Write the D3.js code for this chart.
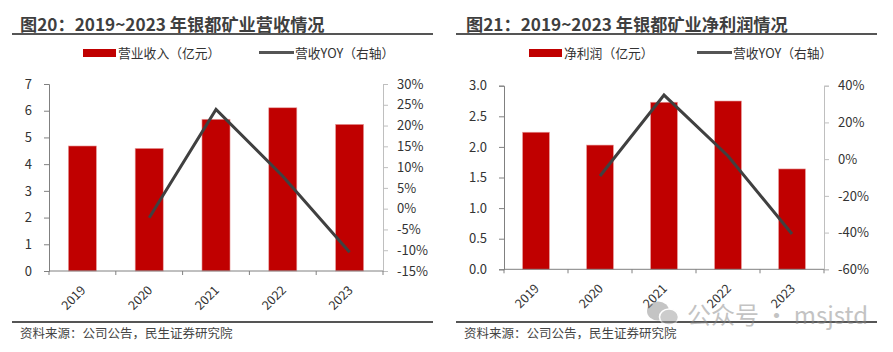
<!DOCTYPE html>
<html>
<head>
<meta charset="utf-8">
<script src="https://cdn.jsdelivr.net/npm/d3@7"></script>
<style>
  body { margin: 0; background: #fff; }
  svg { display: block; font-family: "Noto Sans CJK SC", "Noto Sans", sans-serif; }
</style>
</head>
<body>
<svg id="chart" width="893" height="352"></svg>
<script>
// data
const years = ["2019", "2020", "2021", "2022", "2023"]
const revenue = [4.68, 4.59, 5.68, 6.11, 5.49]          // 亿元
const revenueYoy = [null, -2.2, 23.9, 7.8, -10.5]         // %
const netProfit = [2.24, 2.03, 2.73, 2.75, 1.64]        // 亿元
const profitYoy = [null, -9.2, 34.9, 1.7, -40.8]          // %

const leftTicksA = [0, 1, 2, 3, 4, 5, 6, 7]
const rightTicksA = [-15, -10, -5, 0, 5, 10, 15, 20, 25, 30]
const leftTicksB = [0, 0.5, 1.0, 1.5, 2.0, 2.5, 3.0]
const rightTicksB = [-60, -40, -20, 0, 20, 40]

const svg = d3.select("#chart")

function drawPanel(p) {
    const g = svg.append("g")

    // title + rule under it
    g.append("text")
        .attr("x", p.titleX).attr("y", 31)
        .attr("font-size", 17.2).attr("font-weight", "bold")
        .attr("fill", "#3f3f3f")
        .text(p.title)
    g.append("line")
        .attr("x1", p.ruleX1).attr("x2", p.ruleX2)
        .attr("y1", 34).attr("y2", 34)
        .attr("stroke", "#555").attr("stroke-width", 2)

    // legend
    g.append("rect")
        .attr("x", p.legX).attr("y", 49).attr("width", 33).attr("height", 8)
        .attr("fill", "#C00000")
    g.append("text")
        .attr("x", p.legX + 35).attr("y", 57.5)
        .attr("font-size", 12.8).attr("fill", "#333")
        .text(p.barName)
    g.append("line")
        .attr("x1", p.legX2).attr("x2", p.legX2 + 35)
        .attr("y1", 52.5).attr("y2", 52.5)
        .attr("stroke", "#555").attr("stroke-width", 3)
    g.append("text")
        .attr("x", p.legX2 + 36).attr("y", 57.5)
        .attr("font-size", 12.8).attr("fill", "#333")
        .text(p.lineName)

    const x = d3.scaleBand().domain(years).range([p.x0, p.x1]).paddingInner(0.58).paddingOuter(0.29)
    const xb = d3.scaleBand().domain(years).range([p.x0, p.x1])
    const y = d3.scaleLinear().domain(p.yDomain).range([p.y1, p.y0])
    const y2 = d3.scaleLinear().domain(p.y2Domain).range([p.y1, p.y0])

    // bars
    g.selectAll(".bar")
        .data(p.bars)
        .enter()
        .append("rect")
        .attr("x", (d, i) => x(years[i]))
        .attr("y", d => y(d))
        .attr("width", x.bandwidth())
        .attr("height", d => p.y1 - y(d))
        .attr("fill", "#C00000")
        .attr("stroke", "#e8a0a0").attr("stroke-width", 0.6)

    // left axis
    const ax = g.append("g")
        .attr("transform", `translate(${p.x0},0)`)
        .call(d3.axisLeft(y).tickValues(p.leftTicks).tickSize(5).tickPadding(12).tickFormat(p.leftFmt))
    ax.select(".domain").attr("stroke", "#808080")
    ax.selectAll(".tick line").attr("stroke", "#808080")
    ax.selectAll("text").attr("font-size", 13).attr("fill", "#333").attr("font-family", "Noto Sans CJK SC")

    // right axis
    const ar = g.append("g")
        .attr("transform", `translate(${p.x1},0)`)
        .call(d3.axisRight(y2).tickValues(p.rightTicks).tickSize(5).tickPadding(9).tickFormat(d => d + "%"))
    ar.select(".domain").attr("stroke", "#bfbfbf")
    ar.selectAll(".tick line").attr("stroke", "#bfbfbf")
    ar.selectAll("text").attr("font-size", 13).attr("fill", "#333").attr("font-family", "Noto Sans CJK SC")

    // bottom axis with ticks at category boundaries
    g.append("line")
        .attr("x1", p.x0).attr("x2", p.x1).attr("y1", p.y1).attr("y2", p.y1)
        .attr("stroke", "#808080")
    g.selectAll(".xt")
        .data(years.concat(["end"]))
        .enter()
        .append("line")
        .attr("x1", (d, i) => p.x0 + i * xb.bandwidth())
        .attr("x2", (d, i) => p.x0 + i * xb.bandwidth())
        .attr("y1", p.y1).attr("y2", p.y1 + 4)
        .attr("stroke", "#808080")
    g.selectAll(".xl")
        .data(years)
        .enter()
        .append("text")
        .attr("font-size", 12.5).attr("fill", "#333")
        .attr("text-anchor", "end")
        .attr("transform", d => `translate(${xb(d) + xb.bandwidth() / 2 + 4},${p.y1 + 20}) rotate(-45)`)
        .text(d => d)

    // yoy line
    const line = d3.line()
        .defined(d => d != null)
        .x((d, i) => xb(years[i]) + xb.bandwidth() / 2)
        .y(d => y2(d))
    g.append("path")
        .attr("d", line(p.yoy))
        .attr("fill", "none")
        .attr("stroke", "#404040")
        .attr("stroke-width", 3)
        .attr("stroke-linejoin", "miter")

    // footer
    g.append("line")
        .attr("x1", p.ruleX1).attr("x2", p.ruleX2)
        .attr("y1", 322).attr("y2", 322)
        .attr("stroke", "#555").attr("stroke-width", 2)
    g.append("text")
        .attr("x", p.ruleX1 + 8).attr("y", 338)
        .attr("font-size", 12.5).attr("fill", "#444")
        .text("资料来源：公司公告，民生证券研究院")
}

drawPanel({
    title: "图20：2019~2023 年银都矿业营收情况", titleX: 20, ruleX1: 12, ruleX2: 433,
    barName: "营业收入（亿元）", lineName: "营收YOY（右轴）", legX: 83, legX2: 259,
    x0: 49, x1: 383, y0: 84, y1: 271,
    yDomain: [0, 7], y2Domain: [-15, 30],
    leftTicks: leftTicksA, rightTicks: rightTicksA, leftFmt: d3.format("d"),
    bars: revenue, yoy: revenueYoy
})

drawPanel({
    title: "图21：2019~2023 年银都矿业净利润情况", titleX: 466, ruleX1: 456, ruleX2: 877,
    barName: "净利润（亿元）", lineName: "营收YOY（右轴）", legX: 529, legX2: 697,
    x0: 504, x1: 824, y0: 85.7, y1: 269.3,
    yDomain: [0, 3], y2Domain: [-60, 40],
    leftTicks: leftTicksB, rightTicks: rightTicksB, leftFmt: d3.format(".1f"),
    bars: netProfit, yoy: profitYoy
})

// watermark
const wm = svg.append("g").attr("opacity", 0.5)
wm.append("ellipse").attr("cx", 658).attr("cy", 311).attr("rx", 11).attr("ry", 9.5).attr("fill", "#8a8a8a")
wm.append("ellipse").attr("cx", 669).attr("cy", 317).attr("rx", 9.5).attr("ry", 8).attr("fill", "#9a9a9a").attr("stroke", "#fff").attr("stroke-width", 1.5)
wm.append("text")
    .attr("x", 687).attr("y", 324)
    .attr("font-size", 24).attr("fill", "#888")
    .text("公众号 · msjstd")
</script>
</body>
</html>
